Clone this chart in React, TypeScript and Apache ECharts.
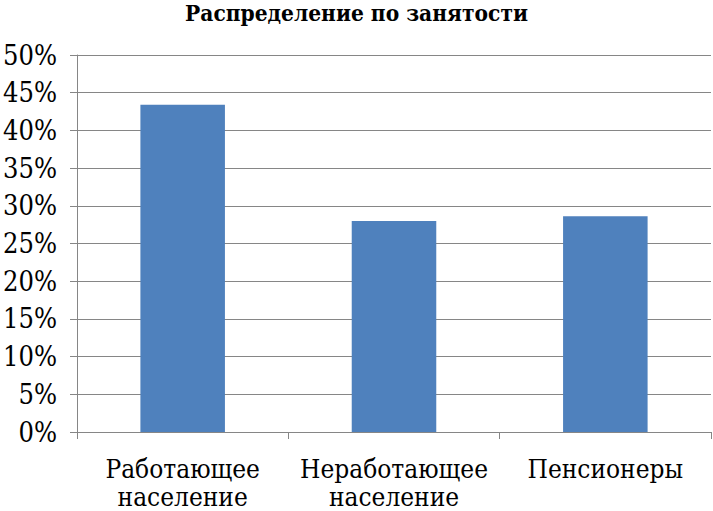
import React, { useEffect, useRef } from "react";
import * as echarts from "echarts";

const categories = ["Работающее\nнаселение", "Неработающее\nнаселение", "Пенсионеры"];
const values = [43.4, 28.0, 28.6];
const title = "Распределение по занятости";

export default function App() {
  const ref = useRef<HTMLDivElement>(null);
  useEffect(() => {
    if (!ref.current) return;
    const chart = echarts.init(ref.current, null, { renderer: "svg" });
    const font = "DejaVu Serif Condensed";
    chart.setOption({
      animation: false,
      textStyle: { fontFamily: font },
      title: {
        text: title,
        left: "center",
        top: 1,
        padding: 0,
        textStyle: { fontFamily: font, fontSize: 22.5, fontWeight: "bold", color: "#000" },
      },
      grid: { left: 77, right: 2, top: 55, bottom: 79, outerBoundsMode: "none", containLabel: false },
      xAxis: {
        type: "category",
        data: categories,
        axisLine: { lineStyle: { color: "#868686", width: 1 } },
        axisTick: { show: true, length: 7, lineStyle: { color: "#868686" } },
        axisLabel: {
          fontFamily: font,
          fontSize: 26,
          lineHeight: 28,
          color: "#000",
          margin: 23,
          interval: 0,
        },
      },
      yAxis: {
        type: "value",
        min: 0,
        max: 50,
        interval: 5,
        axisLine: { show: true, lineStyle: { color: "#868686", width: 1 } },
        axisTick: { show: true, length: 7, lineStyle: { color: "#868686" } },
        splitLine: { lineStyle: { color: "#868686", width: 1 } },
        axisLabel: {
          fontFamily: font,
          fontSize: 27,
          color: "#000",
          margin: 20,
          formatter: "{value}%",
        },
      },
      series: [
        {
          type: "bar",
          data: values,
          barWidth: "40%",
          itemStyle: { color: "#4f81bd" },
        },
      ],
    });
    return () => chart.dispose();
  }, []);
  return (
    <div
      ref={ref}
      style={{ position: "absolute", left: 0, top: 0, width: 713, height: 511 }}
    />
  );
}
